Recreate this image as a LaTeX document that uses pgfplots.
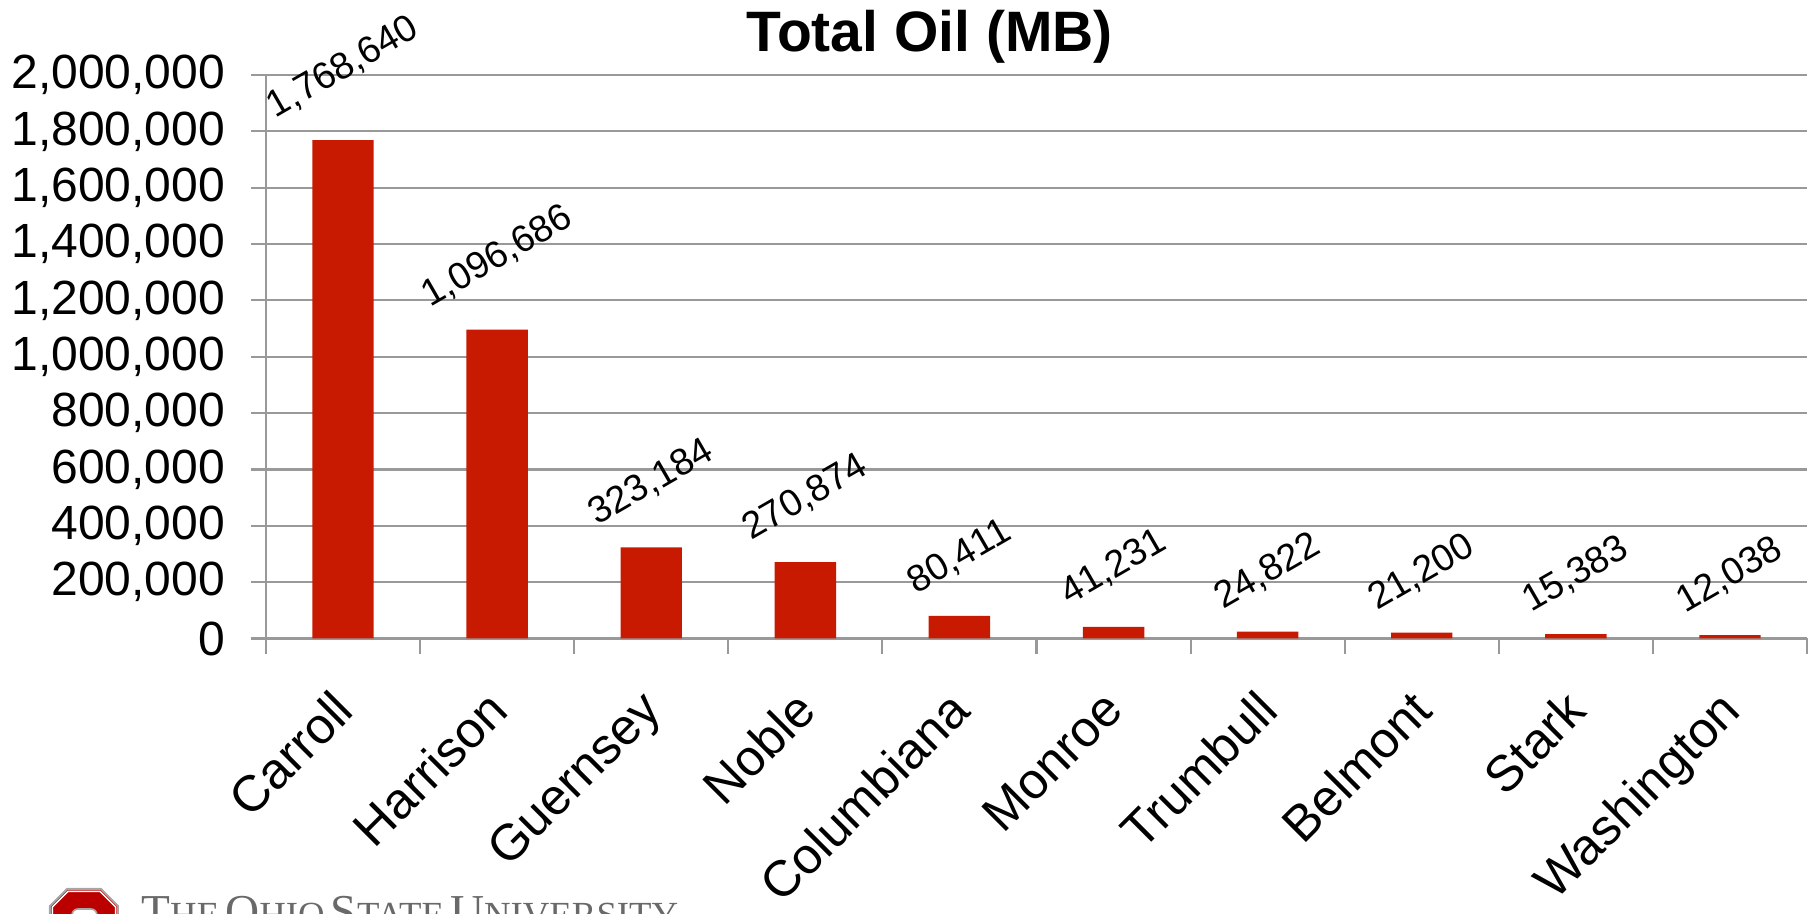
\documentclass[border=0pt]{standalone}
\usepackage{fontspec}
\setmainfont{Liberation Sans}
\newfontfamily\osuserif{Liberation Serif}
\usepackage{graphicx}
\usepackage{pgfplots}
\pgfplotsset{compat=1.18}
\definecolor{barred}{RGB}{200,26,0}
\definecolor{gridgray}{RGB}{153,153,153}
\definecolor{osured}{RGB}{187,0,0}
\definecolor{osugray}{RGB}{105,105,105}
\newcommand\BC[1]{{\fontsize{23.6}{25}\selectfont #1}}
\newcommand\SC[1]{{\fontsize{18.4}{20}\selectfont #1}}
\begin{document}
\begin{tikzpicture}
\useasboundingbox (-133pt,-137.75pt) rectangle (774pt,319.25pt);
\clip (-133pt,-137.75pt) rectangle (774pt,319.25pt);
\begin{axis}[
  at={(0pt,0pt)}, anchor=south west,
  scale only axis, width=770.5pt, height=281.75pt,
  ymin=0, ymax=2000000, xmin=-0.5, xmax=9.5,
  ybar, bar width=30.7pt,
  axis x line*=bottom, axis y line*=left,
  axis line style={gridgray, line width=1.1pt},
  tick align=outside,
  major tick length=7.5pt, minor tick length=7.5pt,
  ytick={0,200000,...,2000000},
  scaled y ticks=false,
  /pgf/number format/.cd, fixed, precision=0, 1000 sep={,}, assume math mode=true,
  /pgfplots/.cd,
  ymajorgrids, grid style={gridgray, line width=1.1pt},
  y tick style={gridgray, line width=1.1pt},
  xtick={0,...,9},
  xticklabels={Carroll,Harrison,Guernsey,Noble,Columbiana,Monroe,Trumbull,Belmont,Stark,Washington},
  minor xtick={-0.5,0.5,...,9.5},
  major x tick style={draw=none},
  minor x tick style={gridgray, line width=1.1pt},
  yticklabel style={font=\fontsize{24}{26}\selectfont, anchor=east, inner sep=0pt, xshift=-12.8pt},
  xticklabel style={font=\fontsize{25.3}{27}\selectfont, inner sep=0pt, xshift=-6.5pt, yshift=-17pt, rotate=45, anchor=north east},
  nodes near coords={\rotatebox{30}{\pgfmathprintnumber{\pgfplotspointmeta}}},
  every node near coord/.append style={font=\fontsize{18.8}{20}\selectfont, anchor=south, inner sep=0pt, yshift=8.5pt, text=black},
]
\addplot[fill=barred, draw=none] coordinates {
(0,1768640) (1,1096686) (2,323184) (3,270874) (4,80411)
(5,41231) (6,24822) (7,21200) (8,15383) (9,12038)};
\end{axis}
\node[font=\bfseries\fontsize{28.5}{30}\selectfont, anchor=base] at (331.75pt,293.25pt) {Total Oil (MB)};
% logo
\draw[gray!70, line width=1pt, fill=osured] (-108pt,-160pt) -- (-108pt,-133.75pt) -- (-99.5pt,-125.25pt) -- (-82.5pt,-125.25pt) -- (-74pt,-133.75pt) -- (-74pt,-160pt) -- cycle;
\draw[white, line width=0.7pt] (-106.8pt,-160pt) -- (-106.8pt,-134.25pt) -- (-99pt,-126.45pt) -- (-83pt,-126.45pt) -- (-75.2pt,-134.25pt) -- (-75.2pt,-160pt);
\draw[gray!70, line width=0.8pt, fill=white, rounded corners=3pt] (-97pt,-160pt) rectangle (-84.5pt,-135.25pt);
\node[anchor=base west, text=osugray, inner sep=0pt] at (-62.5pt,-144.5pt) {\osuserif\BC{T}\SC{HE}\hspace{0.3em}\BC{O}\SC{HIO}\hspace{0.3em}\BC{S}\SC{TATE}\hspace{0.3em}\BC{U}\SC{NIVERSITY}};
\end{tikzpicture}
\end{document}
